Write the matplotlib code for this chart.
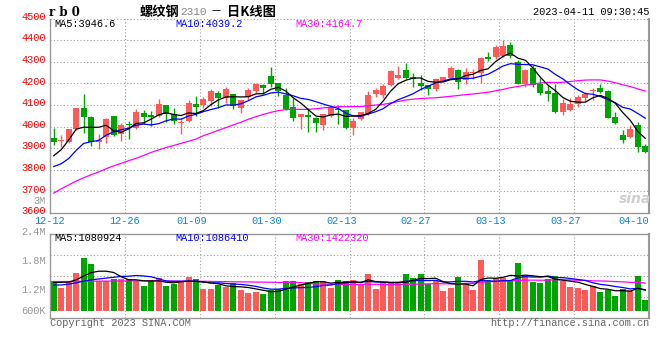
import matplotlib
matplotlib.use("Agg")
import matplotlib.pyplot as plt
import matplotlib.transforms as mtrans
import numpy as np
import pandas as pd

# daily candles for rb2310, 2022-12-12 .. 2023-04-11 (80 trading days)
OPEN = [3948, 3932, 3930, 3989, 4085, 4044, 3927, 3950, 4049, 3965,
        4014, 3992, 4061, 4053, 4050, 4099, 4059, 4018, 4026, 4104,
        4099, 4119, 4154, 4134, 4150, 4084, 4137, 4165, 4194, 4232,
        4200, 4145, 4092, 4046, 4053, 4041, 4008, 4050, 4081, 4076,
        3992, 4034, 4058, 4150, 4145, 4191, 4224, 4260, 4229, 4200,
        4191, 4176, 4211, 4224, 4260, 4214, 4247, 4249, 4324, 4321,
        4325, 4377, 4298, 4198, 4270, 4198, 4163, 4157, 4069, 4076,
        4104, 4134, 4166, 4179, 4163, 4044, 3962, 3950, 4005, 3911]
HIGH = [3994, 3962, 3990, 4088, 4150, 4048, 3966, 4041, 4050, 4018,
        4024, 4081, 4076, 4072, 4127, 4100, 4084, 4038, 4122, 4140,
        4137, 4172, 4163, 4183, 4152, 4124, 4178, 4201, 4196, 4275,
        4203, 4178, 4133, 4060, 4084, 4042, 4060, 4099, 4099, 4078,
        4038, 4068, 4163, 4178, 4197, 4260, 4278, 4293, 4247, 4240,
        4193, 4226, 4231, 4278, 4267, 4273, 4267, 4324, 4347, 4377,
        4402, 4392, 4310, 4266, 4285, 4224, 4194, 4198, 4127, 4130,
        4148, 4160, 4180, 4198, 4168, 4066, 3982, 4008, 4020, 3920]
LOW = [3916, 3904, 3925, 3985, 3972, 3911, 3896, 3925, 3955, 3931,
       3942, 3989, 4012, 4004, 4046, 4020, 4011, 3966, 4022, 4049,
       4087, 4096, 4087, 4110, 4081, 4064, 4122, 4157, 4151, 4183,
       4140, 4078, 4026, 3989, 3977, 3977, 3982, 4046, 4014, 3990,
       3959, 4030, 4055, 4137, 4130, 4188, 4222, 4220, 4183, 4171,
       4148, 4163, 4209, 4221, 4176, 4197, 4221, 4201, 4302, 4313,
       4321, 4316, 4195, 4183, 4183, 4148, 4117, 4064, 4053, 4072,
       4092, 4119, 4122, 4157, 4040, 4011, 3924, 3948, 3882, 3878]
CLOSE = [3930, 3935, 3989, 4085, 4046, 3927, 3937, 4035, 3959, 4008,
         4006, 4066, 4046, 4046, 4104, 4058, 4026, 4021, 4107, 4090,
         4127, 4163, 4131, 4174, 4095, 4122, 4168, 4197, 4179, 4197,
         4165, 4082, 4041, 4058, 4046, 4018, 4058, 4092, 4075, 3992,
         4027, 4066, 4145, 4168, 4186, 4255, 4237, 4224, 4220, 4188,
         4176, 4218, 4229, 4273, 4206, 4252, 4250, 4316, 4313, 4369,
         4374, 4328, 4198, 4264, 4191, 4157, 4150, 4067, 4107, 4104,
         4136, 4150, 4169, 4160, 4041, 4018, 3936, 3989, 3904, 3881]
# volume in thousand lots
VOLUME_K = [1303, 1139, 1303, 1497, 1847, 1707, 1303, 1303, 1349, 1349,
            1349, 1303, 1186, 1326, 1373, 1186, 1232, 1303, 1396, 1349,
            1116, 1116, 1209, 1162, 1256, 1092, 1030, 1053, 999, 1092,
            1116, 1303, 1303, 1232, 1287, 1303, 1303, 1139, 1326, 1303,
            1326, 1232, 1466, 1116, 1256, 1256, 1256, 1466, 1373, 1466,
            1232, 1303, 1069, 1139, 1396, 1256, 1092, 1793, 1326, 1365,
            1365, 1326, 1723, 1419, 1287, 1256, 1349, 1419, 1303, 1162,
            1139, 1092, 1186, 1046, 1092, 960, 1108, 1092, 1419, 859]

# moving-average values before a full window exists
MA5_HEAD = [3865, 3893, 3938, 3988]
MA10_HEAD = [3815, 3828, 3852, 3890, 3922, 3930, 3936, 3960, 3976]
MA30_HEAD = [3692, 3712, 3730, 3748, 3763, 3777, 3790, 3805, 3818, 3830,
             3842, 3853, 3866, 3880, 3892, 3903, 3912, 3922, 3932, 3942,
             3958, 3970, 3983, 3995, 4008, 4020, 4034, 4046, 4056]
VMA5_HEAD_K = [1270, 1270, 1280, 1330]
VMA10_HEAD_K = [1210, 1210, 1230, 1260, 1300, 1330, 1350, 1370, 1390]
VMA30_HEAD_K = [1290, 1290, 1290, 1292, 1295, 1298, 1300, 1300, 1302, 1303,
                1305, 1305, 1305, 1305, 1305, 1303, 1300, 1300, 1300, 1298,
                1295, 1293, 1290, 1288, 1285, 1283, 1280, 1278, 1276]

TICK_IDX = [0, 10, 19, 29, 39, 49, 59, 69, 78]
TICK_TXT = ['12-12', '12-26', '01-09', '01-30', '02-13', '02-27', '03-13', '03-27', '04-10']
PRICE_TICKS = [3600, 3700, 3800, 3900, 4000, 4100, 4200, 4300, 4400, 4500]
VOL_LABELS = ['2.4M', '1.8M', '1.2M', '600K']

RED = '#ff5a5a'
GREEN = '#00a400'
GRID = '#a0a0a0'
FRAME = '#999999'
MONO = 'Liberation Mono'
CJK = ['Noto Sans CJK SC', 'DejaVu Sans']
W, H = 660, 360


def fx(px):
    return px / W


def fy(py):
    return 1 - py / H


def with_head(values, n, head):
    ma = pd.Series(values, dtype=float).rolling(n).mean().to_numpy()
    ma[:len(head)] = head
    return ma


o = np.array(OPEN, dtype=float)
c = np.array(CLOSE, dtype=float)
hi = np.array(HIGH, dtype=float)
lo = np.array(LOW, dtype=float)
vol = np.array(VOLUME_K, dtype=float) * 1000
x = np.arange(len(CLOSE))
colors = np.where(c >= o, RED, GREEN)

fig = plt.figure(figsize=(6.6, 3.6), dpi=100)
fig.patch.set_facecolor('white')

# ---- price panel
ax = fig.add_axes([fx(50), fy(213), fx(599), 194.5 / H])
ax.set_xlim(-0.5, 79.5)
ax.set_ylim(3600, 4500)
for v in PRICE_TICKS[1:]:
    ax.axhline(v, color=GRID, lw=0.8, ls=(0, (1, 2)), zorder=0)
for k in range(1, 8):
    ax.axvline(k * 10 - 0.5, color=GRID, lw=0.8, ls=(0, (1, 2)), zorder=0)

ax.vlines(x, lo, hi, colors=colors, lw=1, zorder=2)
body = np.maximum(np.abs(c - o), 4)
ax.bar(x, body, bottom=np.minimum(o, c), width=0.8, color=colors, lw=0, zorder=3)

ax.plot(x, with_head(CLOSE, 30, MA30_HEAD), color='#ff00ff', lw=0.9, zorder=4)
ax.plot(x, with_head(CLOSE, 10, MA10_HEAD), color='#0000ff', lw=0.9, zorder=5)
ax.plot(x, with_head(CLOSE, 5, MA5_HEAD), color='black', lw=0.9, zorder=6)

ax.set_xticks([])
ax.set_yticks([])
ax.spines['top'].set_visible(False)
for side, lw in (('left', 1), ('bottom', 1), ('right', 1.5)):
    ax.spines[side].set_color(FRAME)
    ax.spines[side].set_linewidth(lw)

ytr = mtrans.blended_transform_factory(ax.transAxes, ax.transData)
for v in PRICE_TICKS:
    ax.text(-4 / 599, v + 8, str(v), transform=ytr, ha='right', va='center',
            color='red', fontsize=7.4, family=MONO)
ax.text(-4 / 599, 3655, '3M', transform=ytr, ha='right', va='center',
        color='#999999', fontsize=7.4, family=MONO)

xtr = mtrans.blended_transform_factory(ax.transData, ax.transAxes)
for i, t in zip(TICK_IDX, TICK_TXT):
    ax.text(i - 0.6, -8.5 / 194.5, t, transform=xtr, ha='center', va='center',
            color='#0f82d2', fontsize=7.4, family=MONO)

ax.text(fx(635), fy(199), 'sina', transform=fig.transFigure, ha='center', va='center',
        color='#cfcfcf', fontsize=10, fontweight='bold', style='italic')

fig.text(fx(54), fy(24), 'MA5:3946.6', color='black', fontsize=7.4, family=MONO, va='center')
fig.text(fx(175), fy(24), 'MA10:4039.2', color='#0000ff', fontsize=7.4, family=MONO, va='center')
fig.text(fx(295), fy(24), 'MA30:4164.7', color='#ff00ff', fontsize=7.4, family=MONO, va='center')

# ---- volume panel
ax2 = fig.add_axes([fx(50), fy(318), fx(599), 84 / H])
ax2.set_xlim(-0.5, 79.5)
ax2.set_ylim(439000, 2400000)
for q in (0.25, 0.5, 0.75):
    ax2.plot([0, 1], [q, q], transform=ax2.transAxes, color=GRID, lw=0.8, ls=(0, (1, 2)), zorder=0)
for k in range(1, 8):
    ax2.axvline(k * 10 - 0.5, color=GRID, lw=0.8, ls=(0, (1, 2)), zorder=0)

ax2.bar(x, vol - 600000, bottom=600000, width=0.8, color=colors, lw=0, zorder=2)
ax2.plot(x, with_head(vol, 30, np.array(VMA30_HEAD_K) * 1000), color='#ff00ff', lw=0.9, zorder=3)
ax2.plot(x, with_head(vol, 10, np.array(VMA10_HEAD_K) * 1000), color='#0000ff', lw=0.9, zorder=4)
ax2.plot(x, with_head(vol, 5, np.array(VMA5_HEAD_K) * 1000), color='black', lw=0.9, zorder=5)

ax2.set_xticks([])
ax2.set_yticks([])
for side in ('left', 'bottom', 'right', 'top'):
    ax2.spines[side].set_color(FRAME)
    ax2.spines[side].set_linewidth(1.5 if side == 'right' else 1)

for t, py in zip(VOL_LABELS, (231.5, 260.5, 290, 310.5)):
    fig.text(fx(46), fy(py), t, ha='right', va='center', color='#999999', fontsize=7.4, family=MONO)

fig.text(fx(54), fy(238), 'MA5:1080924', color='black', fontsize=7.4, family=MONO, va='center')
fig.text(fx(175), fy(238), 'MA10:1086410', color='#0000ff', fontsize=7.4, family=MONO, va='center')
fig.text(fx(295), fy(238), 'MA30:1422320', color='#ff00ff', fontsize=7.4, family=MONO, va='center')

# ---- header / footer
fig.text(fx(49), fy(12), 'r b 0', fontsize=8.5, fontweight='bold', family='DejaVu Serif', va='center')
fig.text(fx(140), fy(12), '螺纹钢', fontsize=9.5, fontweight='bold', family=CJK, va='center')
fig.text(fx(180), fy(12), '2310', fontsize=8, color='#888888', family=MONO, va='center')
fig.text(fx(211), fy(12), '－', fontsize=8, family=CJK, va='center')
fig.text(fx(227), fy(12), '日K线图', fontsize=9.5, fontweight='bold', family=CJK, va='center')
fig.text(fx(649), fy(12), '2023-04-11 09:30:45', ha='right', fontsize=7.4, family=MONO, va='center')

fig.text(fx(50), fy(323), 'Copyright 2023 SINA.COM', fontsize=7.4, color='#666666', family=MONO, va='center')
fig.text(fx(649), fy(323), 'http://finance.sina.com.cn', ha='right', fontsize=7.4, color='#666666',
         family=MONO, va='center')

fig.savefig('out.png', dpi=100)
